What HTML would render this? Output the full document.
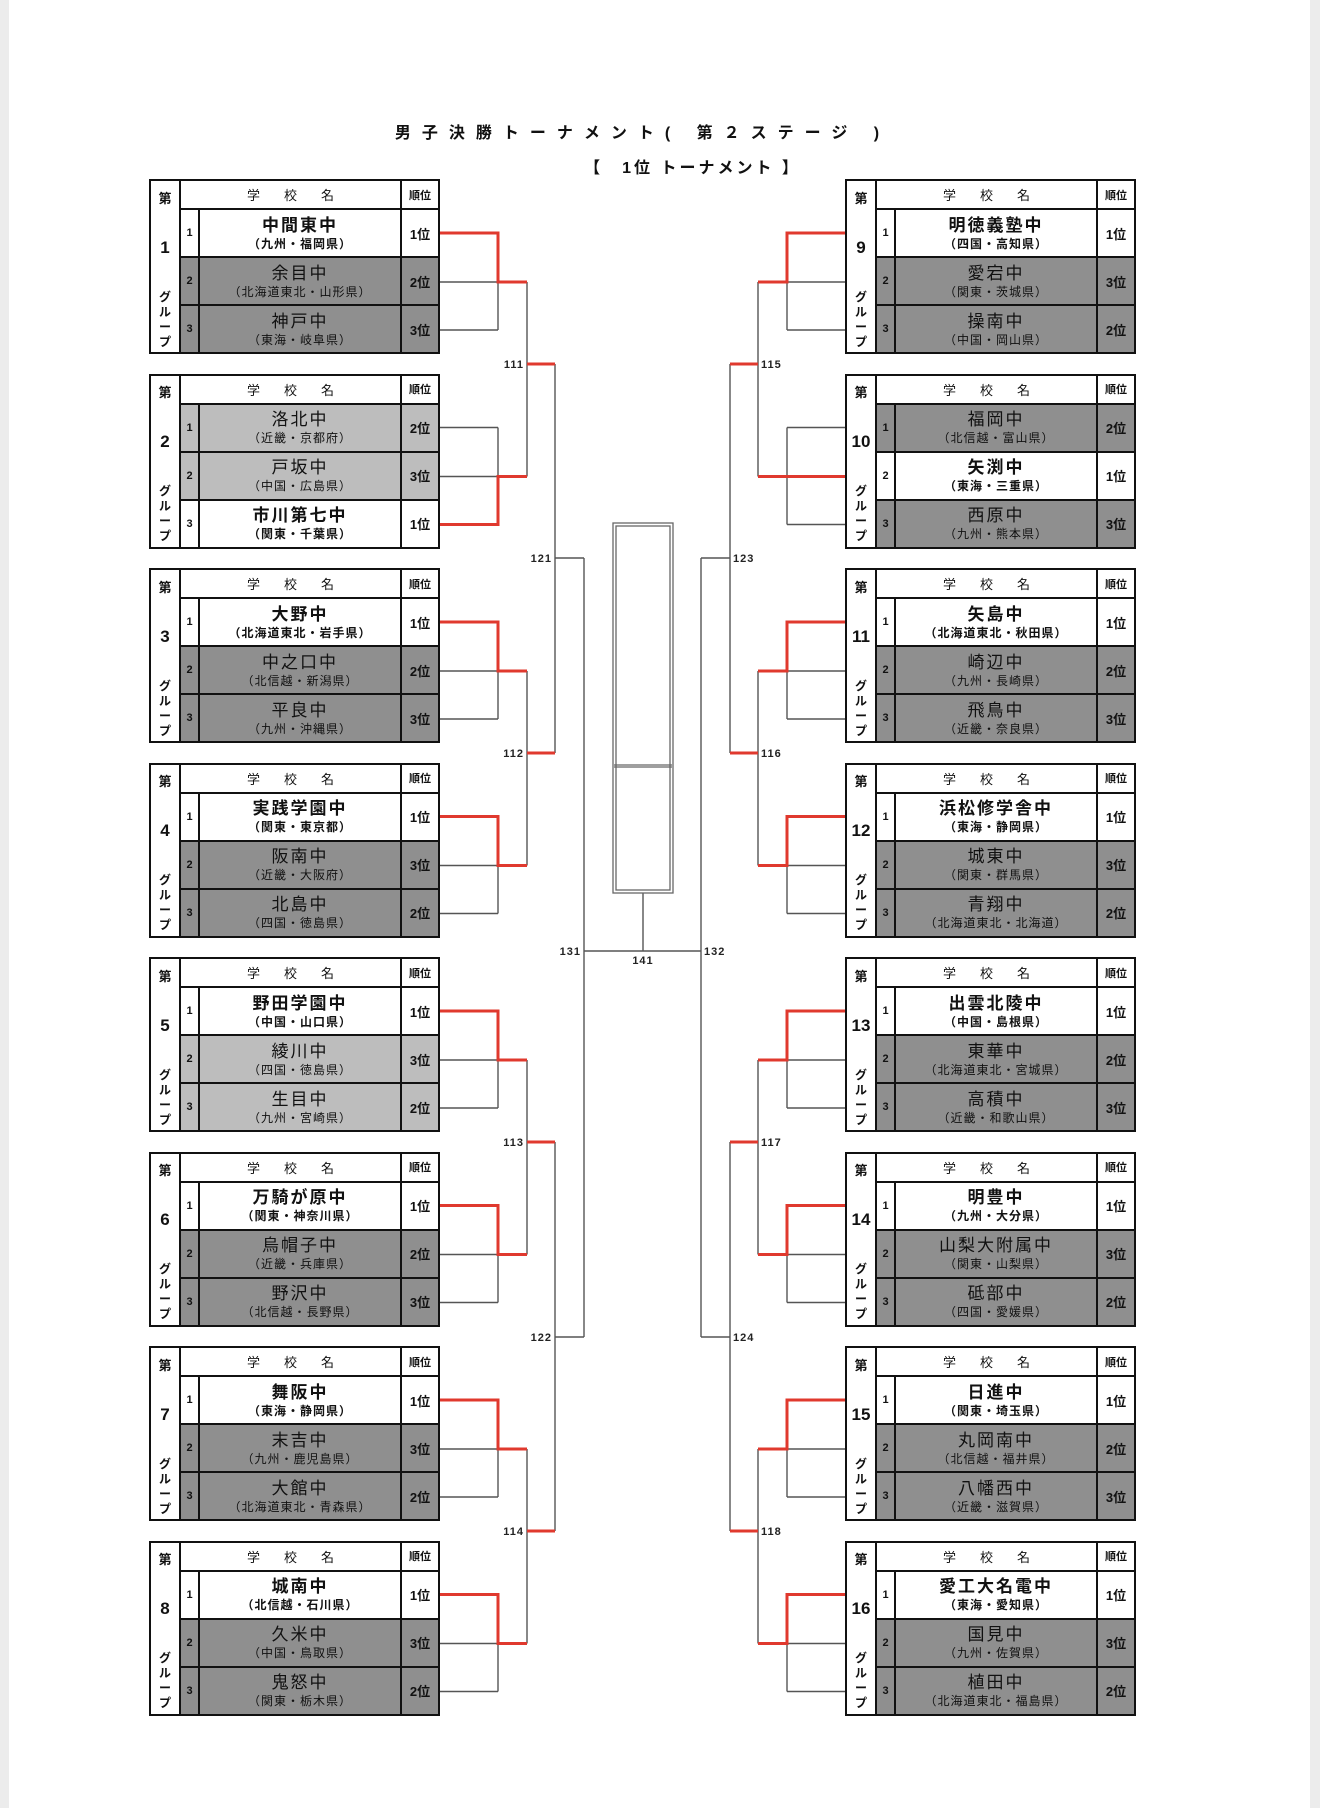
<!DOCTYPE html>
<html><head><meta charset="utf-8"><style>
body{margin:0;width:1320px;height:1808px;background:#fff;position:relative;overflow:hidden;font-family:"Liberation Sans","Noto Sans CJK JP",sans-serif;color:#111}
.strL{position:absolute;left:0;top:0;width:9px;height:1808px;background:#ececec}
.strR{position:absolute;right:0;top:0;width:10px;height:1808px;background:#ececec}
.t1{position:absolute;left:0;width:1285px;top:119px;text-align:center;font-size:16px;font-weight:bold;letter-spacing:11px}
.t2{position:absolute;left:50px;width:1285px;top:154px;text-align:center;font-size:16px;font-weight:bold;letter-spacing:3px}
table.g{position:absolute;width:289px;height:174px;border-collapse:collapse;table-layout:fixed;border:2.5px solid #111}
table.g td{border:2px solid #111;padding:0;text-align:center;vertical-align:middle;overflow:hidden;white-space:nowrap}
.dai{background:#fff;font-weight:bold;font-size:16px;line-height:1}
.dai div{display:flex;flex-direction:column;justify-content:space-between;height:158px;align-items:center;padding-top:10px;padding-bottom:2px}
.dai .nn{font-size:17px}
.dai .gp{font-size:12px;line-height:15px}
tr.hd td{height:27px;font-size:13px;background:#fff}
.hd .hn{letter-spacing:24px;padding-left:24px}
.hd .rk{font-size:11px}
tr.w,tr.d,tr.l{height:48px}
td.n{font-size:11px;font-weight:bold}
td.rk{font-size:13px;font-weight:bold}
td.nm .s{font-size:17px;line-height:21px;letter-spacing:2px}
td.nm .r{font-size:12px;line-height:16px;letter-spacing:1px}
tr.w td{background:#fff}
tr.w .s{font-weight:bold}
tr.w .r{font-weight:bold}
tr.d td{background:#8f8f8f}
tr.l td{background:#bdbdbd}
svg{position:absolute;left:0;top:0}
</style></head><body>
<div class="strL"></div><div class="strR"></div>
<div class="t1">男子決勝トーナメント( 第２ステージ )</div>
<div class="t2">【　1位 トーナメント 】</div>

<svg width="1320" height="1808" viewBox="0 0 1320 1808">
<g fill="none" stroke="#555" stroke-width="1.4">
<path d="M440 233H498M440 282H498M440 330H498M498 233V330"/>
<path d="M440 427.5H498M440 476.5H498M440 524.5H498M498 427.5V524.5"/>
<path d="M440 622H498M440 671H498M440 719H498M498 622V719"/>
<path d="M440 816.5H498M440 865.5H498M440 913.5H498M498 816.5V913.5"/>
<path d="M440 1011H498M440 1060H498M440 1108H498M498 1011V1108"/>
<path d="M440 1205.5H498M440 1254.5H498M440 1302.5H498M498 1205.5V1302.5"/>
<path d="M440 1400H498M440 1449H498M440 1497H498M498 1400V1497"/>
<path d="M440 1594.5H498M440 1643.5H498M440 1691.5H498M498 1594.5V1691.5"/>
<path d="M527 282V476.5M527 671V865.5M527 1060V1254.5M527 1449V1643.5"/>
<path d="M555 364V753M555 558H584M555 1142V1531M555 1337H584M584 558V1337M584 951H701"/>
<path d="M845 233H787M845 282H787M845 330H787M787 233V330"/>
<path d="M845 427.5H787M845 476.5H787M845 524.5H787M787 427.5V524.5"/>
<path d="M845 622H787M845 671H787M845 719H787M787 622V719"/>
<path d="M845 816.5H787M845 865.5H787M845 913.5H787M787 816.5V913.5"/>
<path d="M845 1011H787M845 1060H787M845 1108H787M787 1011V1108"/>
<path d="M845 1205.5H787M845 1254.5H787M845 1302.5H787M787 1205.5V1302.5"/>
<path d="M845 1400H787M845 1449H787M845 1497H787M787 1400V1497"/>
<path d="M845 1594.5H787M845 1643.5H787M845 1691.5H787M787 1594.5V1691.5"/>
<path d="M758 282V476.5M758 671V865.5M758 1060V1254.5M758 1449V1643.5"/>
<path d="M730 364V753M730 558H701M730 1142V1531M730 1337H701M701 558V1337"/>
<path d="M643 893V951"/>
</g>
<g fill="none" stroke="#e0392e" stroke-width="3">
<path d="M440 233H498V282H527"/>
<path d="M440 524.5H498V476.5H527"/>
<path d="M440 622H498V671H527"/>
<path d="M440 816.5H498V865.5H527"/>
<path d="M440 1011H498V1060H527"/>
<path d="M440 1205.5H498V1254.5H527"/>
<path d="M440 1400H498V1449H527"/>
<path d="M440 1594.5H498V1643.5H527"/>
<path d="M527 364H555M527 753H555M527 1142H555M527 1531H555"/>
<path d="M845 233H787V282H758"/>
<path d="M845 476.5H758"/>
<path d="M845 622H787V671H758"/>
<path d="M845 816.5H787V865.5H758"/>
<path d="M845 1011H787V1060H758"/>
<path d="M845 1205.5H787V1254.5H758"/>
<path d="M845 1400H787V1449H758"/>
<path d="M845 1594.5H787V1643.5H758"/>
<path d="M758 364H730M758 753H730M758 1142H730M758 1531H730"/>
</g>
<g fill="none" stroke="#666" stroke-width="1.3">
<rect x="613" y="523" width="60" height="370"/>
<rect x="616" y="526" width="54" height="364"/>
<path d="M614 765H672M614 767H672"/>
</g>
<g font-family="Liberation Sans" font-size="11" font-weight="bold" fill="#222" letter-spacing="1">
<text x="524" y="368" text-anchor="end">111</text>
<text x="524" y="757" text-anchor="end">112</text>
<text x="524" y="1146" text-anchor="end">113</text>
<text x="524" y="1535" text-anchor="end">114</text>
<text x="552" y="562" text-anchor="end">121</text>
<text x="552" y="1341" text-anchor="end">122</text>
<text x="581" y="955" text-anchor="end">131</text>
<text x="761" y="368">115</text>
<text x="761" y="757">116</text>
<text x="761" y="1146">117</text>
<text x="761" y="1535">118</text>
<text x="733" y="562">123</text>
<text x="733" y="1341">124</text>
<text x="704" y="955">132</text>
<text x="643" y="964" text-anchor="middle">141</text>
</g>
</svg>

<!-- LEFT -->
<table class="g" style="left:149px;top:179px"><colgroup><col style="width:30px"><col style="width:19px"><col style="width:202px"><col style="width:38px"></colgroup><tr class="hd"><td class="dai" rowspan="4"><div><span>第</span><span class="nn">1</span><span class="gp">グ<br>ル<br>ー<br>プ</span></div></td><td colspan="2" class="hn">学校名</td><td class="rk">順位</td></tr>
<tr class="w"><td class="n">1</td><td class="nm"><div class="s">中間東中</div><div class="r">（九州・福岡県）</div></td><td class="rk">1位</td></tr>
<tr class="d"><td class="n">2</td><td class="nm"><div class="s">余目中</div><div class="r">（北海道東北・山形県）</div></td><td class="rk">2位</td></tr>
<tr class="d"><td class="n">3</td><td class="nm"><div class="s">神戸中</div><div class="r">（東海・岐阜県）</div></td><td class="rk">3位</td></tr></table>

<table class="g" style="left:149px;top:373.5px"><colgroup><col style="width:30px"><col style="width:19px"><col style="width:202px"><col style="width:38px"></colgroup><tr class="hd"><td class="dai" rowspan="4"><div><span>第</span><span class="nn">2</span><span class="gp">グ<br>ル<br>ー<br>プ</span></div></td><td colspan="2" class="hn">学校名</td><td class="rk">順位</td></tr>
<tr class="l"><td class="n">1</td><td class="nm"><div class="s">洛北中</div><div class="r">（近畿・京都府）</div></td><td class="rk">2位</td></tr>
<tr class="l"><td class="n">2</td><td class="nm"><div class="s">戸坂中</div><div class="r">（中国・広島県）</div></td><td class="rk">3位</td></tr>
<tr class="w"><td class="n">3</td><td class="nm"><div class="s">市川第七中</div><div class="r">（関東・千葉県）</div></td><td class="rk">1位</td></tr></table>

<table class="g" style="left:149px;top:568px"><colgroup><col style="width:30px"><col style="width:19px"><col style="width:202px"><col style="width:38px"></colgroup><tr class="hd"><td class="dai" rowspan="4"><div><span>第</span><span class="nn">3</span><span class="gp">グ<br>ル<br>ー<br>プ</span></div></td><td colspan="2" class="hn">学校名</td><td class="rk">順位</td></tr>
<tr class="w"><td class="n">1</td><td class="nm"><div class="s">大野中</div><div class="r">（北海道東北・岩手県）</div></td><td class="rk">1位</td></tr>
<tr class="d"><td class="n">2</td><td class="nm"><div class="s">中之口中</div><div class="r">（北信越・新潟県）</div></td><td class="rk">2位</td></tr>
<tr class="d"><td class="n">3</td><td class="nm"><div class="s">平良中</div><div class="r">（九州・沖縄県）</div></td><td class="rk">3位</td></tr></table>

<table class="g" style="left:149px;top:762.5px"><colgroup><col style="width:30px"><col style="width:19px"><col style="width:202px"><col style="width:38px"></colgroup><tr class="hd"><td class="dai" rowspan="4"><div><span>第</span><span class="nn">4</span><span class="gp">グ<br>ル<br>ー<br>プ</span></div></td><td colspan="2" class="hn">学校名</td><td class="rk">順位</td></tr>
<tr class="w"><td class="n">1</td><td class="nm"><div class="s">実践学園中</div><div class="r">（関東・東京都）</div></td><td class="rk">1位</td></tr>
<tr class="d"><td class="n">2</td><td class="nm"><div class="s">阪南中</div><div class="r">（近畿・大阪府）</div></td><td class="rk">3位</td></tr>
<tr class="d"><td class="n">3</td><td class="nm"><div class="s">北島中</div><div class="r">（四国・徳島県）</div></td><td class="rk">2位</td></tr></table>

<table class="g" style="left:149px;top:957px"><colgroup><col style="width:30px"><col style="width:19px"><col style="width:202px"><col style="width:38px"></colgroup><tr class="hd"><td class="dai" rowspan="4"><div><span>第</span><span class="nn">5</span><span class="gp">グ<br>ル<br>ー<br>プ</span></div></td><td colspan="2" class="hn">学校名</td><td class="rk">順位</td></tr>
<tr class="w"><td class="n">1</td><td class="nm"><div class="s">野田学園中</div><div class="r">（中国・山口県）</div></td><td class="rk">1位</td></tr>
<tr class="l"><td class="n">2</td><td class="nm"><div class="s">綾川中</div><div class="r">（四国・徳島県）</div></td><td class="rk">3位</td></tr>
<tr class="l"><td class="n">3</td><td class="nm"><div class="s">生目中</div><div class="r">（九州・宮崎県）</div></td><td class="rk">2位</td></tr></table>

<table class="g" style="left:149px;top:1151.5px"><colgroup><col style="width:30px"><col style="width:19px"><col style="width:202px"><col style="width:38px"></colgroup><tr class="hd"><td class="dai" rowspan="4"><div><span>第</span><span class="nn">6</span><span class="gp">グ<br>ル<br>ー<br>プ</span></div></td><td colspan="2" class="hn">学校名</td><td class="rk">順位</td></tr>
<tr class="w"><td class="n">1</td><td class="nm"><div class="s">万騎が原中</div><div class="r">（関東・神奈川県）</div></td><td class="rk">1位</td></tr>
<tr class="d"><td class="n">2</td><td class="nm"><div class="s">烏帽子中</div><div class="r">（近畿・兵庫県）</div></td><td class="rk">2位</td></tr>
<tr class="d"><td class="n">3</td><td class="nm"><div class="s">野沢中</div><div class="r">（北信越・長野県）</div></td><td class="rk">3位</td></tr></table>

<table class="g" style="left:149px;top:1346px"><colgroup><col style="width:30px"><col style="width:19px"><col style="width:202px"><col style="width:38px"></colgroup><tr class="hd"><td class="dai" rowspan="4"><div><span>第</span><span class="nn">7</span><span class="gp">グ<br>ル<br>ー<br>プ</span></div></td><td colspan="2" class="hn">学校名</td><td class="rk">順位</td></tr>
<tr class="w"><td class="n">1</td><td class="nm"><div class="s">舞阪中</div><div class="r">（東海・静岡県）</div></td><td class="rk">1位</td></tr>
<tr class="d"><td class="n">2</td><td class="nm"><div class="s">末吉中</div><div class="r">（九州・鹿児島県）</div></td><td class="rk">3位</td></tr>
<tr class="d"><td class="n">3</td><td class="nm"><div class="s">大館中</div><div class="r">（北海道東北・青森県）</div></td><td class="rk">2位</td></tr></table>

<table class="g" style="left:149px;top:1540.5px"><colgroup><col style="width:30px"><col style="width:19px"><col style="width:202px"><col style="width:38px"></colgroup><tr class="hd"><td class="dai" rowspan="4"><div><span>第</span><span class="nn">8</span><span class="gp">グ<br>ル<br>ー<br>プ</span></div></td><td colspan="2" class="hn">学校名</td><td class="rk">順位</td></tr>
<tr class="w"><td class="n">1</td><td class="nm"><div class="s">城南中</div><div class="r">（北信越・石川県）</div></td><td class="rk">1位</td></tr>
<tr class="d"><td class="n">2</td><td class="nm"><div class="s">久米中</div><div class="r">（中国・鳥取県）</div></td><td class="rk">3位</td></tr>
<tr class="d"><td class="n">3</td><td class="nm"><div class="s">鬼怒中</div><div class="r">（関東・栃木県）</div></td><td class="rk">2位</td></tr></table>

<!-- RIGHT -->
<table class="g" style="left:845px;top:179px"><colgroup><col style="width:30px"><col style="width:19px"><col style="width:202px"><col style="width:38px"></colgroup><tr class="hd"><td class="dai" rowspan="4"><div><span>第</span><span class="nn">9</span><span class="gp">グ<br>ル<br>ー<br>プ</span></div></td><td colspan="2" class="hn">学校名</td><td class="rk">順位</td></tr>
<tr class="w"><td class="n">1</td><td class="nm"><div class="s">明徳義塾中</div><div class="r">（四国・高知県）</div></td><td class="rk">1位</td></tr>
<tr class="d"><td class="n">2</td><td class="nm"><div class="s">愛宕中</div><div class="r">（関東・茨城県）</div></td><td class="rk">3位</td></tr>
<tr class="d"><td class="n">3</td><td class="nm"><div class="s">操南中</div><div class="r">（中国・岡山県）</div></td><td class="rk">2位</td></tr></table>

<table class="g" style="left:845px;top:373.5px"><colgroup><col style="width:30px"><col style="width:19px"><col style="width:202px"><col style="width:38px"></colgroup><tr class="hd"><td class="dai" rowspan="4"><div><span>第</span><span class="nn">10</span><span class="gp">グ<br>ル<br>ー<br>プ</span></div></td><td colspan="2" class="hn">学校名</td><td class="rk">順位</td></tr>
<tr class="d"><td class="n">1</td><td class="nm"><div class="s">福岡中</div><div class="r">（北信越・富山県）</div></td><td class="rk">2位</td></tr>
<tr class="w"><td class="n">2</td><td class="nm"><div class="s">矢渕中</div><div class="r">（東海・三重県）</div></td><td class="rk">1位</td></tr>
<tr class="d"><td class="n">3</td><td class="nm"><div class="s">西原中</div><div class="r">（九州・熊本県）</div></td><td class="rk">3位</td></tr></table>

<table class="g" style="left:845px;top:568px"><colgroup><col style="width:30px"><col style="width:19px"><col style="width:202px"><col style="width:38px"></colgroup><tr class="hd"><td class="dai" rowspan="4"><div><span>第</span><span class="nn">11</span><span class="gp">グ<br>ル<br>ー<br>プ</span></div></td><td colspan="2" class="hn">学校名</td><td class="rk">順位</td></tr>
<tr class="w"><td class="n">1</td><td class="nm"><div class="s">矢島中</div><div class="r">（北海道東北・秋田県）</div></td><td class="rk">1位</td></tr>
<tr class="d"><td class="n">2</td><td class="nm"><div class="s">崎辺中</div><div class="r">（九州・長崎県）</div></td><td class="rk">2位</td></tr>
<tr class="d"><td class="n">3</td><td class="nm"><div class="s">飛鳥中</div><div class="r">（近畿・奈良県）</div></td><td class="rk">3位</td></tr></table>

<table class="g" style="left:845px;top:762.5px"><colgroup><col style="width:30px"><col style="width:19px"><col style="width:202px"><col style="width:38px"></colgroup><tr class="hd"><td class="dai" rowspan="4"><div><span>第</span><span class="nn">12</span><span class="gp">グ<br>ル<br>ー<br>プ</span></div></td><td colspan="2" class="hn">学校名</td><td class="rk">順位</td></tr>
<tr class="w"><td class="n">1</td><td class="nm"><div class="s">浜松修学舎中</div><div class="r">（東海・静岡県）</div></td><td class="rk">1位</td></tr>
<tr class="d"><td class="n">2</td><td class="nm"><div class="s">城東中</div><div class="r">（関東・群馬県）</div></td><td class="rk">3位</td></tr>
<tr class="d"><td class="n">3</td><td class="nm"><div class="s">青翔中</div><div class="r">（北海道東北・北海道）</div></td><td class="rk">2位</td></tr></table>

<table class="g" style="left:845px;top:957px"><colgroup><col style="width:30px"><col style="width:19px"><col style="width:202px"><col style="width:38px"></colgroup><tr class="hd"><td class="dai" rowspan="4"><div><span>第</span><span class="nn">13</span><span class="gp">グ<br>ル<br>ー<br>プ</span></div></td><td colspan="2" class="hn">学校名</td><td class="rk">順位</td></tr>
<tr class="w"><td class="n">1</td><td class="nm"><div class="s">出雲北陵中</div><div class="r">（中国・島根県）</div></td><td class="rk">1位</td></tr>
<tr class="d"><td class="n">2</td><td class="nm"><div class="s">東華中</div><div class="r">（北海道東北・宮城県）</div></td><td class="rk">2位</td></tr>
<tr class="d"><td class="n">3</td><td class="nm"><div class="s">高積中</div><div class="r">（近畿・和歌山県）</div></td><td class="rk">3位</td></tr></table>

<table class="g" style="left:845px;top:1151.5px"><colgroup><col style="width:30px"><col style="width:19px"><col style="width:202px"><col style="width:38px"></colgroup><tr class="hd"><td class="dai" rowspan="4"><div><span>第</span><span class="nn">14</span><span class="gp">グ<br>ル<br>ー<br>プ</span></div></td><td colspan="2" class="hn">学校名</td><td class="rk">順位</td></tr>
<tr class="w"><td class="n">1</td><td class="nm"><div class="s">明豊中</div><div class="r">（九州・大分県）</div></td><td class="rk">1位</td></tr>
<tr class="d"><td class="n">2</td><td class="nm"><div class="s">山梨大附属中</div><div class="r">（関東・山梨県）</div></td><td class="rk">3位</td></tr>
<tr class="d"><td class="n">3</td><td class="nm"><div class="s">砥部中</div><div class="r">（四国・愛媛県）</div></td><td class="rk">2位</td></tr></table>

<table class="g" style="left:845px;top:1346px"><colgroup><col style="width:30px"><col style="width:19px"><col style="width:202px"><col style="width:38px"></colgroup><tr class="hd"><td class="dai" rowspan="4"><div><span>第</span><span class="nn">15</span><span class="gp">グ<br>ル<br>ー<br>プ</span></div></td><td colspan="2" class="hn">学校名</td><td class="rk">順位</td></tr>
<tr class="w"><td class="n">1</td><td class="nm"><div class="s">日進中</div><div class="r">（関東・埼玉県）</div></td><td class="rk">1位</td></tr>
<tr class="d"><td class="n">2</td><td class="nm"><div class="s">丸岡南中</div><div class="r">（北信越・福井県）</div></td><td class="rk">2位</td></tr>
<tr class="d"><td class="n">3</td><td class="nm"><div class="s">八幡西中</div><div class="r">（近畿・滋賀県）</div></td><td class="rk">3位</td></tr></table>

<table class="g" style="left:845px;top:1540.5px"><colgroup><col style="width:30px"><col style="width:19px"><col style="width:202px"><col style="width:38px"></colgroup><tr class="hd"><td class="dai" rowspan="4"><div><span>第</span><span class="nn">16</span><span class="gp">グ<br>ル<br>ー<br>プ</span></div></td><td colspan="2" class="hn">学校名</td><td class="rk">順位</td></tr>
<tr class="w"><td class="n">1</td><td class="nm"><div class="s">愛工大名電中</div><div class="r">（東海・愛知県）</div></td><td class="rk">1位</td></tr>
<tr class="d"><td class="n">2</td><td class="nm"><div class="s">国見中</div><div class="r">（九州・佐賀県）</div></td><td class="rk">3位</td></tr>
<tr class="d"><td class="n">3</td><td class="nm"><div class="s">植田中</div><div class="r">（北海道東北・福島県）</div></td><td class="rk">2位</td></tr></table>
</body></html>
